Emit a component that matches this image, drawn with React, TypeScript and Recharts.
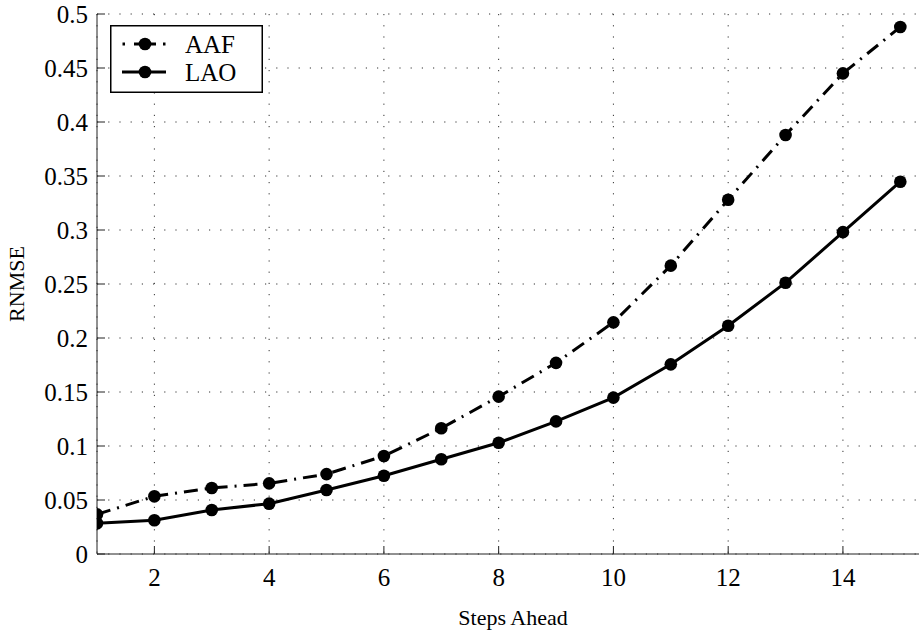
import { CartesianGrid, Legend, Line, LineChart, XAxis, YAxis } from "recharts"

const steps = [1, 2, 3, 4, 5, 6, 7, 8, 9, 10, 11, 12, 13, 14, 15]
const aaf = [0.0367, 0.0534, 0.0611, 0.0654, 0.074, 0.0907, 0.1164, 0.1457, 0.177, 0.2145, 0.267, 0.328, 0.388, 0.445, 0.488]
const lao = [0.0284, 0.0312, 0.0407, 0.0466, 0.0593, 0.0725, 0.0877, 0.103, 0.1228, 0.1448, 0.1756, 0.2114, 0.2512, 0.298, 0.3447]
const xTicks = [2, 4, 6, 8, 10, 12, 14]
const yTicks = [0, 0.05, 0.1, 0.15, 0.2, 0.25, 0.3, 0.35, 0.4, 0.45, 0.5]

const data = steps.map((s, i) => ({ step: s, aaf: aaf[i], lao: lao[i] }))

const serif = "'Liberation Serif', 'Times New Roman', serif"

function XTick({ x, y, payload }: any) {
  return (
    <text x={x} y={y} dy="0.71em" textAnchor="middle" fontSize={25} fontFamily={serif} fill="#000">
      {payload.value}
    </text>
  )
}

function YTick({ x, y, payload }: any) {
  return (
    <text x={x} y={y} dy="0.355em" textAnchor="end" fontSize={25} fontFamily={serif} fill="#000">
      {String(+Number(payload.value).toFixed(2))}
    </text>
  )
}

function LegendBox() {
  return (
    <svg width={153} height={68} style={{ display: "block" }}>
      <rect x={0.75} y={0.75} width={151.5} height={66.5} fill="#fff" stroke="#000" strokeWidth={1.5} />
      {/* AAF sample: dot, dash with marker, dot */}
      <line x1={12.5} y1={19} x2={15} y2={19} stroke="#000" strokeWidth={3} />
      <line x1={24} y1={19} x2={46} y2={19} stroke="#000" strokeWidth={3} />
      <line x1={53} y1={19} x2={55.5} y2={19} stroke="#000" strokeWidth={3} />
      <circle cx={35} cy={19} r={6.3} fill="#000" />
      <text x={75} y={27.5} fontSize={25} fontFamily={serif} fill="#000">AAF</text>
      {/* LAO sample */}
      <line x1={12} y1={47} x2={56} y2={47} stroke="#000" strokeWidth={3} />
      <circle cx={35} cy={47} r={6.3} fill="#000" />
      <text x={75} y={55.5} fontSize={25} fontFamily={serif} fill="#000">LAO</text>
    </svg>
  )
}

export default function App() {
  return (
    <div style={{ position: "absolute", left: 0, top: 0, width: 919, height: 632, overflow: "hidden", background: "#fff", fontFamily: serif }}>
      <LineChart width={935} height={632} data={data} margin={{ top: 14, right: 6, bottom: 0, left: 0 }}>
        <CartesianGrid stroke="#333" strokeDasharray="1.2 10" strokeWidth={1} />
        <XAxis
          dataKey="step"
          type="number"
          domain={[1, 15.5]}
          ticks={xTicks}
          allowDataOverflow
          height={78}
          stroke="#222"
          tickSize={-8}
          tickMargin={22}
          tick={<XTick />}
          label={{ value: "Steps Ahead", position: "insideBottom", offset: 7, fontSize: 22, fill: "#000", fontFamily: serif }}
        />
        <YAxis
          type="number"
          domain={[0, 0.5]}
          ticks={yTicks}
          width={97}
          stroke="#222"
          tickSize={-8}
          tickMargin={17}
          tick={<YTick />}
          label={{
            content: ({ viewBox }: any) => {
              const cx = viewBox.x + 16
              const cy = viewBox.y + viewBox.height / 2
              return (
                <text
                  x={cx}
                  y={cy}
                  transform={`rotate(-90 ${cx} ${cy})`}
                  textAnchor="middle"
                  dominantBaseline="central"
                  fontSize={22}
                  fontFamily={serif}
                  fill="#000"
                >
                  RNMSE
                </text>
              )
            },
          }}
        />
        <Legend
          layout="horizontal"
          verticalAlign="middle"
          align="center"
          wrapperStyle={{ left: 110, top: 25, width: 153, height: 68 }}
          content={() => <LegendBox />}
        />
        <Line
          dataKey="aaf"
          type="linear"
          stroke="#000"
          strokeWidth={3}
          strokeDasharray="14 7 2 7"
          dot={{ r: 6.3, fill: "#000", strokeWidth: 0 }}
          activeDot={false}
          isAnimationActive={false}
        />
        <Line
          dataKey="lao"
          type="linear"
          stroke="#000"
          strokeWidth={3}
          dot={{ r: 6.3, fill: "#000", strokeWidth: 0 }}
          activeDot={false}
          isAnimationActive={false}
        />
      </LineChart>
    </div>
  )
}
